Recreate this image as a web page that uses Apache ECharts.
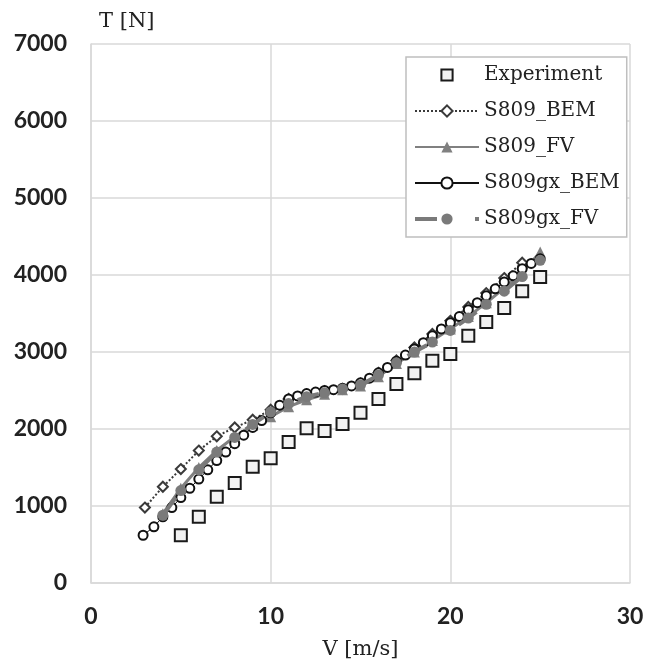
<!DOCTYPE html>
<html>
<head>
<meta charset="utf-8">
<script src="https://cdn.jsdelivr.net/npm/echarts@6/dist/echarts.min.js"></script>
<style>html,body{margin:0;padding:0;background:#fff}#c{width:651px;height:665px}</style>
</head>
<body>
<div id="c"></div>
<script>
// ---- data ----
const expV = [5,6,7,8,9,10,11,12,13,14,15,16,17,18,19,20,21,22,23,24,25];
const expT = [620,860,1120,1300,1510,1620,1830,2010,1975,2065,2210,2390,2585,2725,2885,2975,3210,3390,3570,3790,3975];

const s809BemV = [3,4,5,6,7,8,9,10,11,12,13,14,15,16,17,18,19,20,21,22,23,24];
const s809BemT = [980,1250,1480,1720,1905,2020,2120,2250,2390,2450,2490,2520,2590,2730,2890,3060,3235,3405,3585,3765,3960,4160];

const s809FvV = [4,5,6,7,8,9,10,11,12,13,14,15,16,17,18,19,20,21,22,23,24,25];
const s809FvT = [900,1230,1500,1720,1900,2050,2160,2290,2380,2450,2510,2560,2680,2850,3000,3150,3300,3460,3640,3830,4030,4300];

const gxBemV = [2.9,3.5,4,4.5,5,5.5,6,6.5,7,7.5,8,8.5,9,9.5,10,10.5,11,11.5,12,12.5,13,13.5,14,14.5,15,15.5,16,16.5,17,17.5,18,18.5,19,19.5,20,20.5,21,21.5,22,22.5,23,23.5,24,24.5,25];
const gxBemT = [620,730,860,980,1110,1230,1350,1470,1590,1700,1810,1920,2020,2110,2210,2310,2390,2430,2460,2480,2500,2510,2530,2560,2600,2660,2730,2800,2880,2960,3040,3120,3210,3300,3380,3460,3550,3640,3730,3820,3910,3990,4080,4150,4210];

const gxFvV = [4,5,6,7,8,9,10,11,12,13,14,15,16,17,18,19,20,21,22,23,24,25];
const gxFvT = [880,1200,1470,1700,1890,2060,2220,2330,2420,2470,2520,2570,2700,2860,3000,3130,3280,3440,3620,3790,3980,4190];

const xTicks = [0,10,20,30];
const yTicks = [0,1000,2000,3000,4000,5000,6000,7000];

function pairs(xs, ys){ return xs.map((x,i)=>[x, ys[i]]); }

const chart = echarts.init(document.getElementById('c'), null, {renderer:'canvas'});
const tickFont = {fontFamily:'Lato', fontSize:23, color:'#222', fontWeight:'bold'};
const fvDash = [22,38];
chart.setOption({
  animation:false,
  backgroundColor:'#fff',
  grid:{left:91, top:44, right:21, bottom:82, containLabel:false},
  xAxis:{
    type:'value', min:xTicks[0], max:xTicks[xTicks.length-1], interval:10,
    name:'V [m/s]', nameLocation:'middle', nameGap:56,
    nameTextStyle:{fontFamily:'DejaVu Serif', fontSize:21, color:'#222'},
    axisLine:{show:true, lineStyle:{color:'#d9d9d9', width:1.5}},
    axisTick:{show:false},
    axisLabel:Object.assign({margin:22, formatter:v=>String(v)}, tickFont),
    splitLine:{show:true, lineStyle:{color:'#d9d9d9', width:1.5}}
  },
  yAxis:{
    type:'value', min:yTicks[0], max:yTicks[yTicks.length-1], interval:1000,
    name:'T [N]', nameLocation:'end', nameGap:12,
    nameTextStyle:{fontFamily:'DejaVu Serif', fontSize:21, color:'#222', align:'left', padding:[0,0,0,8]},
    axisLine:{show:true, lineStyle:{color:'#d9d9d9', width:1.5}},
    axisTick:{show:false},
    axisLabel:Object.assign({margin:24, formatter:v=>String(v)}, tickFont),
    splitLine:{show:true, lineStyle:{color:'#d9d9d9', width:1.5}}
  },
  legend:{
    orient:'vertical', left:406, top:57,
    padding:[7,7,7,7],
    backgroundColor:'#fff',
    borderColor:'#bfbfbf', borderWidth:1.5,
    itemWidth:64, itemHeight:14, itemGap:14,
    textStyle:{fontFamily:'DejaVu Serif', fontSize:20, color:'#222', lineHeight:22},
    data:['Experiment','S809_BEM','S809_FV','S809gx_BEM',
      {name:'S809gx_FV', lineStyle:{type:fvDash, width:4, color:'#7a7a7a'}}]
  },
  series:[
    {
      name:'Experiment', type:'line', data:pairs(expV, expT),
      symbol:'rect', symbolSize:12,
      lineStyle:{width:0, color:'rgba(0,0,0,0)'},
      itemStyle:{color:'#f2f2f2', borderColor:'#1a1a1a', borderWidth:2},
      z:2
    },
    {
      name:'S809_BEM', type:'line', data:pairs(s809BemV, s809BemT),
      symbol:'emptyDiamond', symbolSize:10,
      lineStyle:{width:2, color:'#3a3a3a', type:'dotted'},
      itemStyle:{color:'#3a3a3a', borderWidth:1.5},
      z:3
    },
    {
      name:'S809_FV', type:'line', data:pairs(s809FvV, s809FvT),
      symbol:'triangle', symbolSize:11,
      lineStyle:{width:3, color:'#808080'},
      itemStyle:{color:'#808080'},
      z:4
    },
    {
      name:'S809gx_BEM', type:'line', data:pairs(gxBemV, gxBemT),
      symbol:'emptyCircle', symbolSize:9,
      lineStyle:{width:1, color:'#111'},
      itemStyle:{color:'#111', borderWidth:1.5},
      z:5
    },
    {
      name:'S809gx_FV', type:'line', data:pairs(gxFvV, gxFvT),
      symbol:'circle', symbolSize:11,
      lineStyle:{width:4, color:'#7a7a7a', type:fvDash},
      itemStyle:{color:'#7a7a7a'},
      z:6
    }
  ]
});
</script>
</body>
</html>
